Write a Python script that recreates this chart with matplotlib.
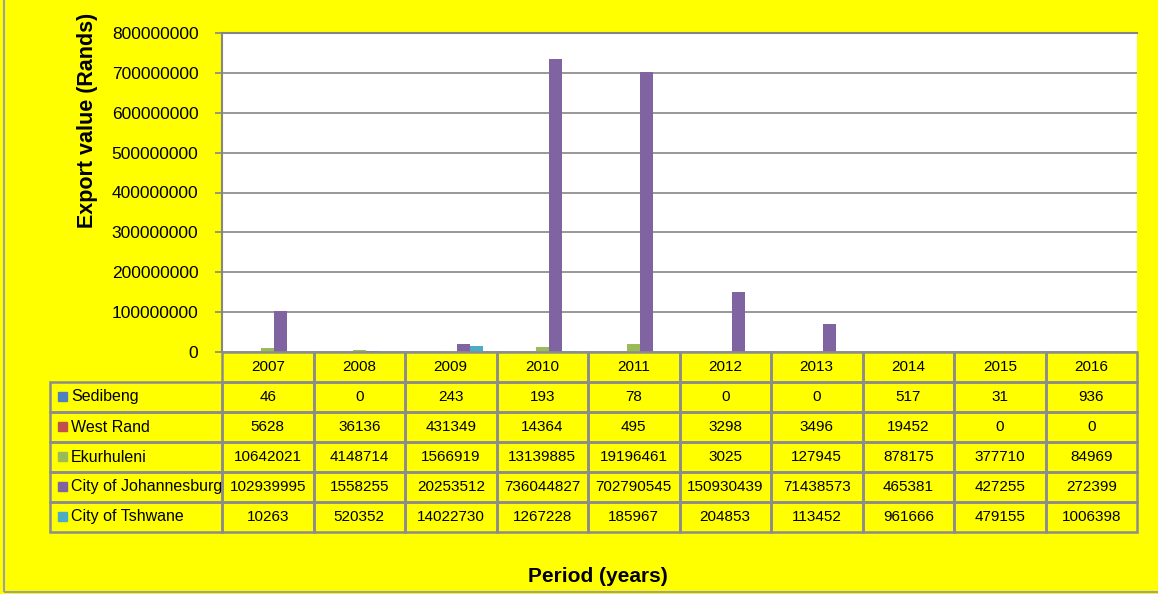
import matplotlib.pyplot as plt
import numpy as np
from matplotlib.patches import Rectangle

years = ['2007', '2008', '2009', '2010', '2011', '2012', '2013', '2014', '2015', '2016']
regions = ['Sedibeng', 'West Rand', 'Ekurhuleni', 'City of Johannesburg', 'City of Tshwane']
colors = ['#4F81BD', '#C0504D', '#9BBB59', '#8064A2', '#4BACC6']

sedibeng = [46, 0, 243, 193, 78, 0, 0, 517, 31, 936]
west_rand = [5628, 36136, 431349, 14364, 495, 3298, 3496, 19452, 0, 0]
ekurhuleni = [10642021, 4148714, 1566919, 13139885, 19196461, 3025, 127945, 878175, 377710, 84969]
johannesburg = [102939995, 1558255, 20253512, 736044827, 702790545, 150930439, 71438573, 465381, 427255, 272399]
tshwane = [10263, 520352, 14022730, 1267228, 185967, 204853, 113452, 961666, 479155, 1006398]

series = [sedibeng, west_rand, ekurhuleni, johannesburg, tshwane]

W, H = 1158, 594
plt.rcParams['font.family'] = ['Liberation Sans', 'DejaVu Sans']
fig = plt.figure(figsize=(W / 100, H / 100), dpi=100, facecolor='#FFFF00')

grid_col = '#868686'

# main plot area
ax = fig.add_axes([222 / W, (H - 352) / H, 915 / W, 319 / H])
ax.set_facecolor('white')
x = np.arange(len(years))
bw = 0.142
for i, (vals, c) in enumerate(zip(series, colors)):
    ax.bar(x + (i - 2) * bw, vals, width=bw, color=c, zorder=3)
ax.set_xlim(-0.5, len(years) - 0.5)
ax.set_ylim(0, 800000000)
ax.set_yticks(np.arange(0, 800000001, 100000000))
ax.set_yticklabels([str(v) for v in range(0, 800000001, 100000000)])
ax.yaxis.grid(True, color=grid_col, lw=1.2, zorder=0)
ax.set_xticks([])
ax.tick_params(axis='y', labelsize=12.5, color=grid_col, length=5, width=1.2, pad=12)
for s in ['top', 'left']:
    ax.spines[s].set_color(grid_col)
    ax.spines[s].set_linewidth(1.5)
ax.spines['right'].set_visible(False)
ax.spines['bottom'].set_visible(False)

# data table below the plot, columns aligned with the categories
lab_w = 172 / 91.5
tax = fig.add_axes([50 / W, (H - 532) / H, (1137 - 50) / W, 180 / H])
tax.set_xlim(-0.5 - lab_w, len(years) - 0.5)
tax.set_ylim(0, len(regions) + 1)
tax.axis('off')
ec = '#8c8c8c'
fs = 11
nrow = len(regions)
for j, yr in enumerate(years):
    tax.add_patch(Rectangle((j - 0.5, nrow), 1, 1, fill=False, ec=ec, lw=1.8, clip_on=False))
    tax.text(j, nrow + 0.5, yr, ha='center', va='center', fontsize=fs)
for r, (name, vals, c) in enumerate(zip(regions, series, colors)):
    yb = nrow - 1 - r
    tax.add_patch(Rectangle((-0.5 - lab_w, yb), lab_w, 1, fill=False, ec=ec, lw=1.8, clip_on=False))
    tax.add_patch(Rectangle((-0.5 - lab_w + 8 / 91.5, yb + 0.36), 9 / 91.5, 0.3, color=c, clip_on=False))
    tax.text(-0.5 - lab_w + 21 / 91.5, yb + 0.5, name, ha='left', va='center', fontsize=11.5)
    for j, v in enumerate(vals):
        tax.add_patch(Rectangle((j - 0.5, yb), 1, 1, fill=False, ec=ec, lw=1.8, clip_on=False))
        tax.text(j, yb + 0.5, str(v), ha='center', va='center', fontsize=fs)

fig.text(87 / W, 1 - 120 / H, 'Export value (Rands)', rotation=90, ha='center', va='center',
         fontsize=15.5, fontweight='bold')
fig.text(598 / W, 1 - 577 / H, 'Period (years)', ha='center', va='center',
         fontsize=15, fontweight='bold')

fig.patches.append(Rectangle((4 / W, 2 / H), 1.2, 1.2, transform=fig.transFigure,
                             fill=False, ec='#a0a0a0', lw=1.5))

fig.savefig('out.png', dpi=100, facecolor=fig.get_facecolor())
